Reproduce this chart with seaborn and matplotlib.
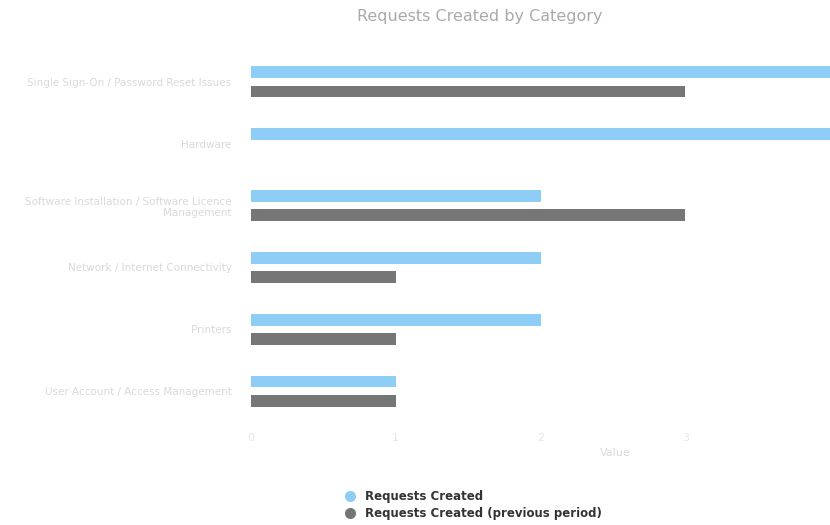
import matplotlib
matplotlib.use("Agg")
import matplotlib.pyplot as plt
import seaborn as sns
import pandas as pd
from matplotlib.lines import Line2D

categories = [
    "Single Sign-On / Password Reset Issues",
    "Hardware",
    "Software Installation / Software Licence\nManagement",
    "Network / Internet Connectivity",
    "Printers",
    "User Account / Access Management",
]
current = [4, 4, 2, 2, 2, 1]
previous = [3, 0, 3, 1, 1, 1]
series_names = ["Requests Created", "Requests Created (previous period)"]
xticks = [0, 1, 2, 3]

df = pd.DataFrame({
    "Category": categories * 2,
    "Value": current + previous,
    "Series": [series_names[0]] * len(categories) + [series_names[1]] * len(categories),
})

sns.set_theme(style="white")
fig = plt.figure(figsize=(8.3, 5.25), dpi=100)
ax = fig.add_axes([251 / 830, 1 - 422 / 525, (830 - 251) / 830, (422 - 51) / 525])

palette = {series_names[0]: "#8ecdf5", series_names[1]: "#767676"}
sns.barplot(data=df, y="Category", x="Value", hue="Series", palette=palette,
            orient="h", width=0.62, ax=ax, legend=False, saturation=1)

for p in ax.patches:
    h = p.get_height()
    cy = p.get_y() + h / 2
    nh = 0.19
    p.set_height(nh)
    p.set_y(cy - nh / 2)
    p.set_linewidth(0)

ax.set_xlim(0, 4)
ax.set_ylim(5.5, -0.5)
ax.set_xticks(xticks)
ax.set_xticklabels([str(t) for t in xticks], color="#e6e6e6", fontsize=8)
ax.tick_params(axis="y", labelsize=7.5, labelcolor="#d9d9d9", length=0, pad=14)
ax.tick_params(axis="x", length=0, pad=8)
for s in ax.spines.values():
    s.set_visible(False)
ax.set_ylabel("")
ax.set_xlabel("Value", color="#d9d9d9", fontsize=8)
ax.xaxis.set_label_coords((615 - 251) / 579, -0.07)
ax.grid(False)

fig.suptitle("Requests Created by Category", x=480 / 830, y=1 - 17 / 525,
             va="center", fontsize=11.5, color="#aaaaaa")

handles = [Line2D([], [], marker="o", linestyle="", markersize=7,
                  markerfacecolor=palette[n], markeredgecolor=palette[n]) for n in series_names]
leg = fig.legend(handles, series_names, loc="upper left",
                 bbox_to_anchor=(333 / 830, 1 - 485 / 525), frameon=False,
                 handletextpad=0.3, labelspacing=0.35, borderaxespad=0,
                 prop={"size": 8.5, "weight": "bold"})
for t in leg.get_texts():
    t.set_color("#333333")

fig.savefig("out.png", dpi=100)
